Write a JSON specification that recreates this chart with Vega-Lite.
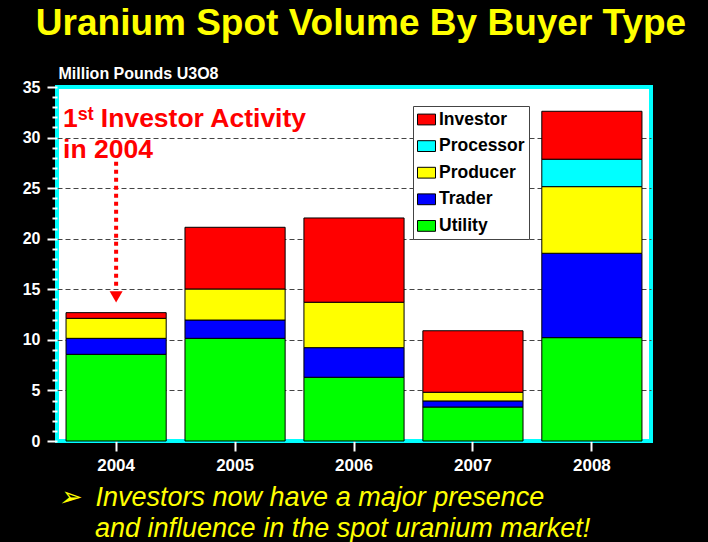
{
  "$schema": "https://vega.github.io/schema/vega-lite/v6.json",
  "width": 594,
  "height": 354,
  "autosize": {"type": "none"},
  "padding": {"left": 57, "top": 87, "right": 57, "bottom": 101},
  "background": "#000000",
  "title": {
    "text": "Uranium Spot Volume By Buyer Type",
    "color": "#FFFF00",
    "font": "Liberation Sans, Arial, sans-serif",
    "fontWeight": "bold",
    "fontSize": 37,
    "anchor": "middle",
    "frame": "group",
    "baseline": "alphabetic",
    "dx": 7,
    "offset": -7
  },
  "config": {
    "view": {"fill": "#FFFFFF", "stroke": "#00FFFF", "strokeWidth": 4},
    "legend": {
      "orient": "none",
      "legendX": 356,
      "legendY": 19,
      "fillColor": "#FFFFFF",
      "strokeColor": "#444444",
      "padding": 4,
      "labelFont": "Liberation Sans, Arial, sans-serif",
      "labelFontWeight": "bold",
      "labelFontSize": 17.5,
      "labelColor": "#000000",
      "labelOffset": 3,
      "symbolType": "M-1,-0.6H1V0.6H-1Z",
      "symbolSize": 324,
      "symbolStrokeColor": "#000000",
      "symbolStrokeWidth": 1,
      "symbolOpacity": 1,
      "rowPadding": 8.6
    }
  },
  "datasets": {
    "volume": [
      {"year": "2004", "type": "Utility", "value": 8.57},
      {"year": "2004", "type": "Trader", "value": 1.58},
      {"year": "2004", "type": "Producer", "value": 1.98},
      {"year": "2004", "type": "Investor", "value": 0.56},
      {"year": "2005", "type": "Utility", "value": 10.15},
      {"year": "2005", "type": "Trader", "value": 1.81},
      {"year": "2005", "type": "Producer", "value": 3.07},
      {"year": "2005", "type": "Investor", "value": 6.1},
      {"year": "2006", "type": "Utility", "value": 6.3},
      {"year": "2006", "type": "Trader", "value": 2.93},
      {"year": "2006", "type": "Producer", "value": 4.49},
      {"year": "2006", "type": "Investor", "value": 8.33},
      {"year": "2007", "type": "Utility", "value": 3.36},
      {"year": "2007", "type": "Trader", "value": 0.6},
      {"year": "2007", "type": "Producer", "value": 0.86},
      {"year": "2007", "type": "Investor", "value": 6.08},
      {"year": "2008", "type": "Utility", "value": 10.22},
      {"year": "2008", "type": "Trader", "value": 8.34},
      {"year": "2008", "type": "Producer", "value": 6.59},
      {"year": "2008", "type": "Processor", "value": 2.71},
      {"year": "2008", "type": "Investor", "value": 4.74}
    ],
    "annotation": [{"label": "1st Investor Activity in 2004"}]
  },
  "layer": [
    {
      "data": {"name": "volume"},
      "mark": {"type": "bar", "stroke": "#000000", "strokeWidth": 1, "opacity": 1},
      "encoding": {
        "x": {
          "field": "year",
          "type": "nominal",
          "scale": {"paddingInner": 0.158, "paddingOuter": 0.076},
          "axis": {
            "labelAngle": 0,
            "domain": false,
            "tickSize": 10,
            "tickWidth": 2,
            "tickColor": "#FFFFFF",
            "labelColor": "#FFFFFF",
            "labelFont": "Liberation Sans, Arial, sans-serif",
            "labelFontWeight": "bold",
            "labelFontSize": 17,
            "labelPadding": 6,
            "title": ["➢\u00a0\u00a0Investors now have a major presence", "\u200b\u00a0\u00a0\u00a0\u00a0\u00a0and influence in the spot uranium market!"],
            "titleColor": "#FFFF00",
            "titleFont": "Liberation Sans, Arial, sans-serif",
            "titleFontStyle": "italic",
            "titleFontWeight": "normal",
            "titleFontSize": 27,
            "titleAnchor": "start",
            "titleAlign": "left",
            "titleBaseline": "alphabetic",
            "titleLineHeight": 31,
            "titleX": 0,
            "titleY": 64
          }
        },
        "y": {
          "field": "value",
          "type": "quantitative",
          "stack": "zero",
          "scale": {"domain": [0, 35], "nice": false},
          "axis": {
            "values": [0,1,2,3,4,5,6,7,8,9,10,11,12,13,14,15,16,17,18,19,20,21,22,23,24,25,26,27,28,29,30,31,32,33,34,35],
            "tickCount": 40,
            "labelExpr": "datum.value % 5 === 0 ? datum.label : ''",
            "labelOverlap": false,
            "format": "d",
            "domain": false,
            "tickColor": "#FFFFFF",
            "tickWidth": 2,
            "tickSize": {"condition": {"test": "datum.value % 5 === 0", "value": 10}, "value": 5},
            "labelColor": "#FFFFFF",
            "labelFont": "Liberation Sans, Arial, sans-serif",
            "labelFontWeight": "bold",
            "labelFontSize": 16,
            "labelPadding": 7,
            "grid": true,
            "gridColor": "#444444",
            "gridDash": [5, 3],
            "gridWidth": 1,
            "gridOpacity": {"condition": {"test": "datum.value % 5 === 0 && datum.value > 0 && datum.value < 35", "value": 1}, "value": 0},
            "title": "Million Pounds U3O8",
            "titleColor": "#FFFFFF",
            "titleFont": "Liberation Sans, Arial, sans-serif",
            "titleFontWeight": "bold",
            "titleFontSize": 16,
            "titleAngle": 0,
            "titleAlign": "left",
            "titleBaseline": "alphabetic",
            "titleX": 1,
            "titleY": -9
          }
        },
        "color": {
          "field": "type",
          "type": "nominal",
          "title": null,
          "scale": {
            "domain": ["Investor", "Processor", "Producer", "Trader", "Utility"],
            "range": ["#FF0000", "#00FFFF", "#FFFF00", "#0000FF", "#00FF00"]
          }
        },
        "order": {"field": "type", "sort": "descending"}
      }
    },
    {
      "data": {"name": "annotation"},
      "mark": {"type": "rule", "color": "#FF0000", "strokeWidth": 4, "strokeDash": [4, 4], "strokeCap": "butt"},
      "encoding": {
        "x": {"datum": "2004", "type": "nominal"},
        "y": {"datum": 27.6, "type": "quantitative"},
        "y2": {"datum": 15.2}
      }
    },
    {
      "data": {"name": "annotation"},
      "mark": {"type": "point", "shape": "triangle-down", "filled": true, "color": "#FF0000", "opacity": 1, "size": 169},
      "encoding": {
        "x": {"datum": "2004", "type": "nominal"},
        "y": {"datum": 14.25, "type": "quantitative"}
      }
    },
    {
      "data": {"name": "annotation"},
      "mark": {
        "type": "text",
        "text": ["1ˢᵗ Investor Activity", "in 2004"],
        "color": "#FF0000",
        "font": "Liberation Sans, Arial, sans-serif",
        "fontWeight": "bold",
        "fontSize": 26.5,
        "align": "left",
        "baseline": "alphabetic",
        "lineHeight": 31,
        "dx": -3
      },
      "encoding": {
        "x": {"datum": "2004", "type": "nominal", "bandPosition": 0},
        "y": {"datum": 31.05, "type": "quantitative"}
      }
    }
  ]
}
